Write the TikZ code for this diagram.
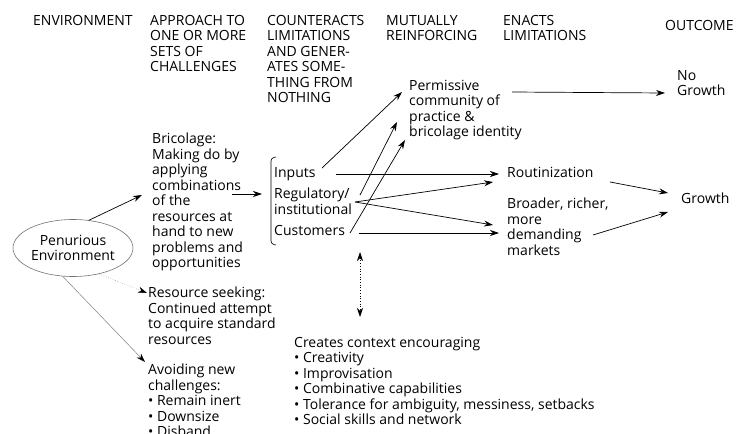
\documentclass[tikz,border=0pt]{standalone}
\usepackage{fontspec}
\setmainfont{Open Sans}
\usetikzlibrary{arrows.meta,shapes}

\begin{document}
\begin{tikzpicture}[x=1pt,y=-1pt,
    txt/.style={anchor=north west,inner sep=0pt,align=left,font=\fontsize{14}{15.5}\selectfont},
    arr/.style={-{Stealth[length=9pt,width=6pt]},line width=0.7pt},
    faint/.style={-{Stealth[length=9pt,width=6pt,black]},draw=black!50,line width=0.5pt}]
    \useasboundingbox (0,0) rectangle (737,434);
    % headings
    \node[txt] (henv) at (33,15) {ENVIRONMENT};
    \node[txt] (happ) at (150,15) {APPROACH TO\\ONE OR MORE\\SETS OF\\CHALLENGES};
    \node[txt] (hcnt) at (267,15) {COUNTERACTS\\LIMITATIONS\\AND GENER-\\ATES SOME-\\THING FROM\\NOTHING};
    \node[txt] (hmut) at (386,15) {MUTUALLY\\REINFORCING};
    \node[txt] (henc) at (503,15) {ENACTS\\LIMITATIONS};
    \node[txt] (hout) at (665,20) {OUTCOME};

    \node[ellipse,draw=black!55,line width=0.6pt,minimum width=120pt,minimum height=57pt,
          inner sep=0pt,align=center,font=\fontsize{14}{15.5}\selectfont] (env) at (73,248) {Penurious\\Environment};

    \node[txt] (bric) at (152,133) {Bricolage:\\Making do by\\applying\\combinations\\of the\\resources at\\hand to new\\problems and\\opportunities};
    \node[txt] (res) at (148,287) {Resource seeking:\\Continued attempt\\to acquire standard\\resources};
    \node[txt] (avoid) at (148,364) {Avoiding new\\challenges:\\\textbullet\ Remain inert\\\textbullet\ Downsize\\\textbullet\ Disband};

    \node[txt] (inputs) at (274,167) {Inputs};
    \node[txt] (reg) at (274,188) {Regulatory/\\institutional};
    \node[txt] (cust) at (274,225) {Customers};
    \draw[line width=0.6pt,rounded corners=3pt] (276,157) -- (271,158) -- (271,244) -- (276,245);

    \node[txt] (perm) at (409,80) {Permissive\\community of\\practice \&\\bricolage identity};
    \node[txt] (rout) at (507,167) {Routinization};
    \node[txt] (broad) at (507,198) {Broader, richer,\\more\\demanding\\markets};
    \node[txt] (nogr) at (677,70) {No\\Growth};
    \node[txt] (growth) at (681,193) {Growth};

    \node[txt] (ctx) at (294,337) {Creates context encouraging\\\textbullet\ Creativity\\\textbullet\ Improvisation\\\textbullet\ Combinative capabilities\\\textbullet\ Tolerance for ambiguity, messiness, setbacks\\\textbullet\ Social skills and network};

    % environment to approaches
    \draw[arr] (env.60) -- ([shift={(-10,62)}]bric.north west);
    \draw[faint,dotted] (env.-45) -- ([shift={(-1,6)}]res.north west);
    \draw[faint] (env.-110) -- ([shift={(-3,-2)}]avoid.north west);
    \draw[arr] ([shift={(80,61)}]bric.north west) -- ([shift={(-12,27)}]inputs.north west);

    % counteracts -> mutually reinforcing
    \draw[arr] ([shift={(48,1)}]inputs.north west) -- ([shift={(-7,12)}]perm.north west);
    \draw[arr] ([shift={(86,7)}]reg.north west) -- ([shift={(-12,42)}]perm.north west);
    \draw[arr] ([shift={(76,8)}]cust.north west) -- ([shift={(-4,60)}]perm.north west);
    \draw[arr] ([shift={(62,7)}]inputs.north west) -- ([shift={(-8,7)}]rout.north west);
    \draw[arr] ([shift={(81,14)}]reg.north west) -- ([shift={(-14,15)}]rout.north west);
    \draw[arr] ([shift={(81,14)}]reg.north west) -- ([shift={(-14,27)}]broad.north west);
    \draw[arr] ([shift={(85,8)}]cust.north west) -- ([shift={(-8,35)}]broad.north west);

    % outcomes
    \draw[arr] ([shift={(103,12)}]perm.north west) -- ([shift={(-12,23)}]nogr.north west);
    \draw[arr] ([shift={(103,15)}]rout.north west) -- ([shift={(-13,0)}]growth.north west);
    \draw[arr] ([shift={(86,37)}]broad.north west) -- ([shift={(-13,19)}]growth.north west);

    \draw[{Stealth[length=9pt,width=6pt]}-{Stealth[length=9pt,width=6pt]},dotted,line width=0.7pt]
        ([shift={(86,27)}]cust.north west) -- ([shift={(66,-20)}]ctx.north west);
\end{tikzpicture}
\end{document}
